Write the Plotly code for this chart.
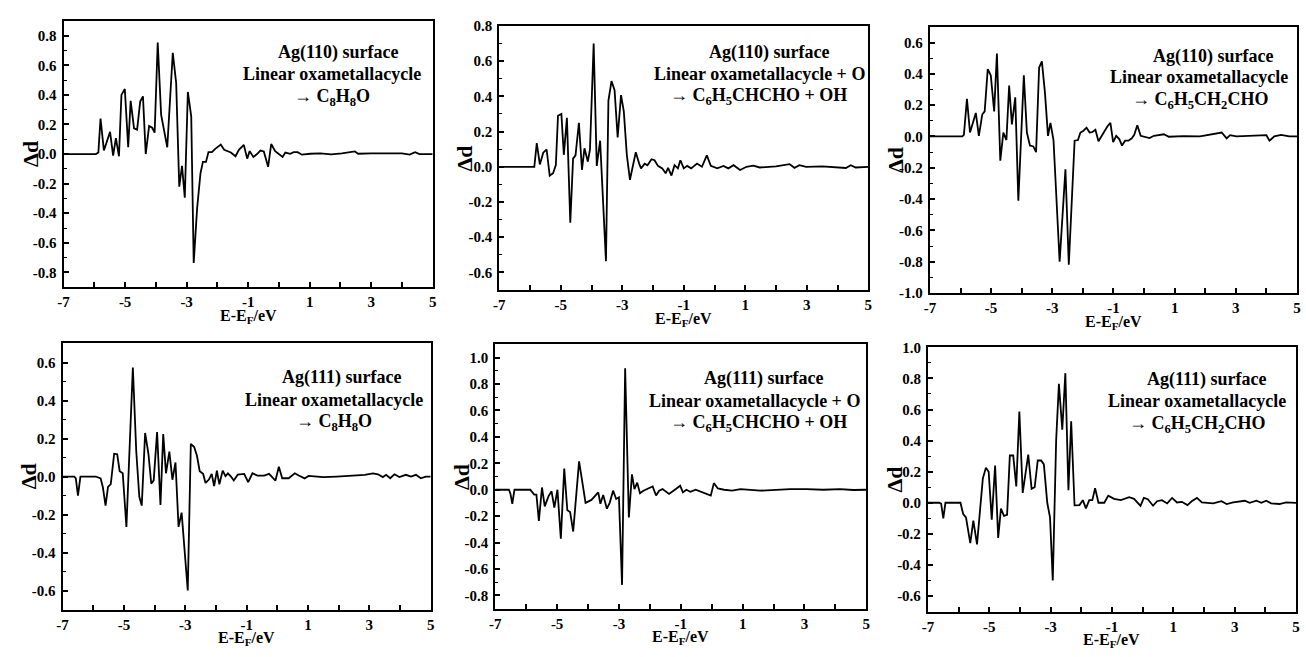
import plotly.graph_objects as go

# ---------------- data ----------------
x1 = [-7.0, -5.95, -5.87, -5.80, -5.69, -5.49, -5.39, -5.30, -5.20, -5.12,
      -5.01, -4.90, -4.82, -4.71, -4.61, -4.51, -4.42, -4.33, -4.22, -4.12,
      -4.04, -3.94, -3.83, -3.63, -3.45, -3.34, -3.24, -3.15, -3.06, -2.96,
      -2.85, -2.77, -2.66, -2.55, -2.47, -2.37, -2.29, -2.18, -2.07, -1.89,
      -1.78, -1.56, -1.41, -1.30, -1.14, -1.03, -0.95, -0.83, -0.71, -0.60,
      -0.49, -0.35, -0.25, -0.12, 0.12, 0.21, 0.37, 0.48, 0.61, 0.75,
      1.02, 1.35, 1.70, 2.05, 2.47, 2.58, 3.00, 3.50, 4.00, 4.25,
      4.43, 4.57, 5.00]
y1 = [0.0, 0.0, 0.01, 0.24, 0.024, 0.15, -0.01, 0.108, -0.015, 0.40,
      0.44, 0.046, 0.36, 0.174, 0.165, 0.355, 0.39, 0.0, 0.19, 0.178,
      0.145, 0.755, 0.267, 0.046, 0.685, 0.48, -0.22, -0.08, -0.295, 0.42,
      0.255, -0.736, -0.37, -0.13, -0.053, -0.053, 0.013, 0.013, 0.035, 0.064,
      0.029, 0.011, -0.015, 0.029, 0.062, -0.031, 0.02, -0.02, 0.0, 0.024,
      0.018, -0.086, 0.068, 0.02, -0.02, 0.01, 0.002, 0.013, 0.013, -0.004,
      0.002, 0.005, -0.002, 0.004, 0.018, 0.002, 0.004, 0.002, 0.004, -0.004,
      0.013, 0.0, 0.0]

x2 = [-7.0, -5.86, -5.78, -5.68, -5.57, -5.46, -5.36, -5.25, -5.16, -5.09,
      -4.98, -4.90, -4.80, -4.69, -4.60, -4.52, -4.41, -4.31, -4.23, -4.12,
      -4.05, -3.93, -3.83, -3.72, -3.53, -3.45, -3.35, -3.25, -3.15, -3.04,
      -2.95, -2.85, -2.75, -2.65, -2.56, -2.45, -2.39, -2.27, -2.18, -2.05,
      -1.95, -1.84, -1.70, -1.59, -1.51, -1.40, -1.30, -1.19, -1.11, -1.00,
      -0.89, -0.76, -0.57, -0.41, -0.25, -0.12, 0.09, 0.29, 0.45, 0.62,
      0.83, 1.04, 1.26, 1.47, 2.00, 2.44, 2.60, 2.76, 2.98, 3.50,
      4.27, 4.43, 4.59, 5.0]
y2 = [0.0, 0.0, 0.135, 0.013, 0.08, 0.098, -0.05, -0.037, 0.01, 0.29,
      0.30, 0.068, 0.278, -0.318, 0.046, 0.065, 0.25, -0.018, 0.105, 0.03,
      0.098, 0.70, 0.005, 0.148, -0.537, 0.376, 0.487, 0.435, 0.167, 0.407,
      0.315, 0.065, -0.074, 0.018, 0.083, 0.018, -0.009, 0.018, 0.009, 0.043,
      0.037, 0.005, -0.009, -0.037, -0.006, -0.05, 0.009, -0.009, 0.037, -0.009,
      0.005, -0.009, 0.018, 0.0, 0.065, 0.005, -0.009, 0.005, -0.009, 0.009,
      -0.018, 0.0, 0.006, -0.004, 0.002, 0.015, -0.006, 0.009, 0.0, 0.002,
      -0.007, 0.009, -0.004, 0.0]

x3 = [-7.0, -5.94, -5.89, -5.79, -5.69, -5.50, -5.40, -5.29, -5.21, -5.11,
      -5.01, -4.90, -4.81, -4.70, -4.60, -4.50, -4.41, -4.32, -4.21, -4.11,
      -3.93, -3.83, -3.73, -3.62, -3.53, -3.43, -3.34, -3.24, -3.14, -3.06,
      -2.96, -2.76, -2.57, -2.46, -2.27, -2.16, -2.08, -1.99, -1.88, -1.78,
      -1.70, -1.59, -1.49, -1.40, -1.30, -1.20, -1.10, -1.01, -0.91, -0.81,
      -0.72, -0.62, -0.51, -0.40, -0.32, -0.22, -0.11, 0.0, 0.18, 0.32,
      0.65, 0.81, 1.30, 1.83, 2.54, 2.70, 2.81, 3.02, 4.00, 4.10,
      4.26, 4.48, 4.75, 5.0]
y3 = [0.0, 0.0, 0.01, 0.24, 0.025, 0.15, 0.004, 0.14, 0.16, 0.43,
      0.39, 0.16, 0.53, -0.155, 0.025, -0.023, 0.325, 0.077, 0.25, -0.41,
      0.39, 0.025, -0.058, -0.064, -0.10, 0.44, 0.48, 0.28, 0.004, 0.087,
      -0.023, -0.80, -0.21, -0.82, -0.027, -0.023, 0.025, 0.035, 0.056, 0.025,
      0.027, 0.043, -0.031, -0.002, 0.035, 0.064, 0.087, -0.037, 0.004, -0.017,
      -0.058, -0.027, -0.027, -0.012, 0.01, 0.072, 0.004, -0.002, -0.01, 0.004,
      0.014, -0.002, 0.002, 0.0, 0.025, -0.012, 0.008, 0.0, 0.008, -0.027,
      0.0, 0.01, 0.0, 0.0]

x4 = [-7.0, -6.62, -6.57, -6.50, -6.42, -6.25, -5.92, -5.76, -5.69, -5.60,
      -5.52, -5.43, -5.32, -5.22, -5.14, -5.04, -4.92, -4.71, -4.60, -4.50,
      -4.42, -4.31, -4.20, -4.11, -4.03, -3.92, -3.81, -3.72, -3.63, -3.52,
      -3.42, -3.32, -3.22, -3.12, -2.92, -2.82, -2.71, -2.62, -2.53, -2.42,
      -2.34, -2.23, -2.14, -2.06, -1.97, -1.89, -1.78, -1.69, -1.61, -1.51,
      -1.42, -1.29, -1.08, -0.95, -0.81, -0.65, -0.43, -0.27, -0.06, 0.05,
      0.16, 0.37, 0.57, 0.70, 0.89, 1.02, 1.50, 1.93, 2.47, 2.85,
      3.12, 3.28, 3.44, 3.55, 3.68, 3.82, 3.98, 4.19, 4.36, 4.52,
      4.68, 4.84, 5.0]
y4 = [0.0, 0.0, -0.01, -0.10, 0.0, 0.0, 0.0, -0.01, -0.055, -0.153,
      -0.055, -0.04, 0.12, 0.117, 0.028, 0.017, -0.265, 0.574, 0.134, -0.107,
      -0.153, 0.229, 0.117, -0.038, -0.02, 0.234, -0.15, 0.224, 0.017, 0.131,
      -0.017, 0.074, -0.265, -0.19, -0.60, 0.172, 0.155, 0.109, 0.028, 0.014,
      -0.034, -0.016, 0.014, -0.05, 0.031, -0.041, 0.031, 0.002, 0.017, 0.0,
      -0.021, 0.01, 0.014, -0.03, 0.017, 0.005, 0.005, 0.014, -0.021, 0.052,
      -0.009, -0.009, 0.017, 0.005, -0.01, 0.003, -0.003, 0.0, 0.003, 0.009,
      0.017, 0.012, -0.003, 0.009, -0.009, 0.012, -0.003, 0.009, 0.0, 0.009,
      -0.009, 0.0, 0.0]

x5 = [-7.0, -6.56, -6.51, -6.45, -6.38, -5.87, -5.74, -5.67, -5.59, -5.49,
      -5.40, -5.28, -5.18, -5.09, -4.99, -4.88, -4.77, -4.67, -4.58, -4.48,
      -4.29, -4.18, -4.08, -3.89, -3.67, -3.60, -3.51, -3.39, -3.30, -3.19,
      -3.09, -3.00, -2.90, -2.80, -2.68, -2.58, -2.50, -2.41, -2.32, -2.21,
      -2.02, -1.91, -1.80, -1.70, -1.59, -1.38, -1.16, -1.02, -0.93, -0.82,
      -0.69, -0.52, -0.03, 0.07, 0.20, 0.40, 0.66, 0.93, 1.57, 2.00,
      2.54, 3.07, 3.61, 4.15, 4.58, 5.0]
y5 = [0.0, 0.0, -0.03, -0.106, 0.0, 0.0, -0.037, -0.037, -0.235, 0.017,
      -0.126, -0.05, -0.012, -0.136, 0.0, -0.37, 0.16, -0.155, -0.168, -0.316,
      0.215, 0.03, -0.099, -0.077, -0.02, -0.106, -0.04, -0.143, -0.099, -0.007,
      -0.07, -0.057, -0.72, 0.92, -0.21, 0.116, 0.005, 0.054, -0.027, -0.007,
      0.017, 0.025, -0.044, -0.007, 0.005, -0.032, 0.005, 0.03, -0.02, 0.0,
      -0.015, 0.0, -0.044, 0.05, 0.01, 0.0, -0.007, 0.005, -0.007, 0.0,
      0.005, 0.005, 0.0, 0.005, -0.002, 0.0]

x6 = [-7.0, -6.64, -6.57, -6.50, -6.43, -5.94, -5.85, -5.76, -5.62, -5.52,
      -5.40, -5.30, -5.21, -5.11, -5.02, -4.92, -4.81, -4.71, -4.62, -4.52,
      -4.42, -4.33, -4.22, -4.12, -4.02, -3.91, -3.73, -3.62, -3.52, -3.42,
      -3.31, -3.22, -3.11, -3.02, -2.93, -2.82, -2.73, -2.62, -2.52, -2.42,
      -2.33, -2.22, -2.06, -1.95, -1.85, -1.74, -1.64, -1.55, -1.44, -1.25,
      -1.12, -0.93, -0.71, -0.44, -0.28, -0.07, 0.04, 0.17, 0.34, 0.47,
      0.63, 0.80, 0.96, 1.12, 1.28, 1.46, 1.60, 1.77, 1.93, 2.30,
      2.57, 2.74, 2.95, 3.33, 3.49, 3.71, 3.87, 4.03, 4.19, 4.46,
      4.68, 5.0]
y6 = [0.0, 0.0, -0.005, -0.10, 0.0, 0.0, -0.073, -0.094, -0.26, -0.115,
      -0.268, -0.02, 0.157, 0.226, 0.20, -0.109, 0.24, -0.226, -0.038, -0.084,
      -0.078, 0.304, 0.304, 0.105, 0.587, 0.063, 0.31, 0.09, 0.10, 0.272,
      0.272, 0.247, 0.0, -0.094, -0.50, 0.40, 0.765, 0.47, 0.834, 0.08,
      0.524, -0.017, -0.015, 0.017, -0.036, 0.017, 0.017, 0.094, 0.0, 0.0,
      0.046, 0.025, 0.017, 0.036, 0.025, -0.02, 0.031, 0.023, -0.019, 0.01,
      0.017, -0.004, 0.031, 0.002, 0.006, -0.015, 0.01, 0.031, 0.002, -0.004,
      0.01, -0.008, 0.002, 0.013, 0.0, 0.013, 0.0, 0.013, -0.004, -0.008,
      0.002, 0.0]

x_ticks = [-7, -5, -3, -1, 1, 3, 5]
x_ticktext = ["-7", "-5", "-3", "-1", "1", "3", "5"]

y_ranges = [(-0.9, 0.9), (-0.7, 0.8), (-1.0, 0.7), (-0.7, 0.7), (-0.9, 1.1), (-0.7, 1.0)]

line1 = ["Ag(110) surface", "Ag(110) surface", "Ag(110) surface",
         "Ag(111) surface", "Ag(111) surface", "Ag(111) surface"]
line2 = ["Linear oxametallacycle", "Linear oxametallacycle + O", "Linear oxametallacycle",
         "Linear oxametallacycle", "Linear oxametallacycle + O", "Linear oxametallacycle"]
line3 = ["→ C<sub>8</sub>H<sub>8</sub>O",
         "→ C<sub>6</sub>H<sub>5</sub>CHCHO + OH",
         "→ C<sub>6</sub>H<sub>5</sub>CH<sub>2</sub>CHO",
         "→ C<sub>8</sub>H<sub>8</sub>O",
         "→ C<sub>6</sub>H<sub>5</sub>CHCHO + OH",
         "→ C<sub>6</sub>H<sub>5</sub>CH<sub>2</sub>CHO"]

y_title = "Δd"
x_title = "E-E<sub>F</sub>/eV"

series_x = [x1, x2, x3, x4, x5, x6]
series_y = [y1, y2, y3, y4, y5, y6]

# ---------------- layout geometry (pixels) ----------------
W, H = 1306, 657
boxes = [(58, 430, 14, 287), (497, 869, 19, 290), (931, 1301, 20, 293),
         (57, 428, 344, 617), (493, 867, 345, 616), (929, 1300, 348, 619)]
text_pos = [[(335, 47), (329, 69), (329, 93)],
            [(769, 47), (759, 69), (758, 92)],
            [(1216, 51), (1202, 72), (1203, 96)],
            [(338, 379), (331, 402), (331, 425)],
            [(763, 380), (754, 403), (758, 426)],
            [(1210, 381), (1200, 403), (1200, 427)]]
xtitle_gap = [30, 30, 30, 29, 29, 29]

FONT = "Liberation Serif, Times New Roman, serif"


def fx(px):
    return px / W


def fy(py):
    return 1 - py / H


fig = go.Figure()
annotations = []
layout = dict(width=W, height=H, autosize=False,
              margin=dict(l=0, r=0, t=0, b=0, pad=0),
              paper_bgcolor="white", plot_bgcolor="white",
              showlegend=False)

for i in range(6):
    n = i + 1
    xa = "x" if n == 1 else f"x{n}"
    ya = "y" if n == 1 else f"y{n}"
    fig.add_trace(go.Scatter(x=series_x[i], y=series_y[i], mode="lines",
                             line=dict(color="black", width=1.8),
                             xaxis=xa, yaxis=ya, hoverinfo="skip"))
    l, r, t, b = boxes[i]
    lo, hi = y_ranges[i]
    k0 = int(round(lo * 10))
    k1 = int(round(hi * 10))
    yvals = [k / 10 for k in range(k0, k1 + 1) if k % 2 == 0]
    ytext = [f"<b>{v:.1f}</b>" for v in yvals]
    common = dict(showline=True, linecolor="black", linewidth=2, mirror=True,
                  showgrid=False, zeroline=False, ticks="inside",
                  tickcolor="black", tickwidth=1.5, ticklen=5,
                  ticklabeloverflow="allow",
                  tickfont=dict(family=FONT, size=15, color="black"))
    layout["xaxis" if n == 1 else f"xaxis{n}"] = dict(
        domain=[fx(l), fx(r)], anchor=ya, range=[-7.002, 5.002],
        tickmode="array", tickvals=x_ticks,
        ticktext=[f"<b>{s}</b>" for s in x_ticktext],
        minor=dict(dtick=1, tick0=0, ticks="inside", ticklen=5,
                   tickcolor="black", tickwidth=1.5),
        **common)
    layout["yaxis" if n == 1 else f"yaxis{n}"] = dict(
        domain=[fy(b), fy(t)], anchor=xa, range=[lo - 0.002, hi + 0.002],
        tickmode="array", tickvals=yvals, ticktext=ytext,
        minor=dict(dtick=0.1, tick0=0, ticks="inside", ticklen=3,
                   tickcolor="black", tickwidth=1.2),
        ticklabelstandoff=2, **common)

    texts = [line1[i], line2[i], line3[i]]
    for (cx, cy), s in zip(text_pos[i], texts):
        annotations.append(dict(x=fx(cx), y=fy(cy), xref="paper", yref="paper",
                                text=f"<b>{s}</b>", showarrow=False,
                                xanchor="center", yanchor="middle",
                                font=dict(family=FONT, size=18, color="black")))
    annotations.append(dict(x=fx(l - 34), y=fy((t + b) / 2), xref="paper", yref="paper",
                            text=f"<b>{y_title}</b>", showarrow=False, textangle=-90,
                            xanchor="center", yanchor="middle",
                            font=dict(family=FONT, size=22, color="black")))
    annotations.append(dict(x=fx((l + r) / 2), y=fy(b + xtitle_gap[i]), xref="paper",
                            yref="paper", text=f"<b>{x_title}</b>", showarrow=False,
                            xanchor="center", yanchor="middle",
                            font=dict(family=FONT, size=16, color="black")))

layout["annotations"] = annotations
fig.update_layout(**layout)
fig.write_html("out.html",
               config={"displayModeBar": False},
               post_script="document.body.style.margin='0px';"
                           "document.body.style.overflow='hidden';")
